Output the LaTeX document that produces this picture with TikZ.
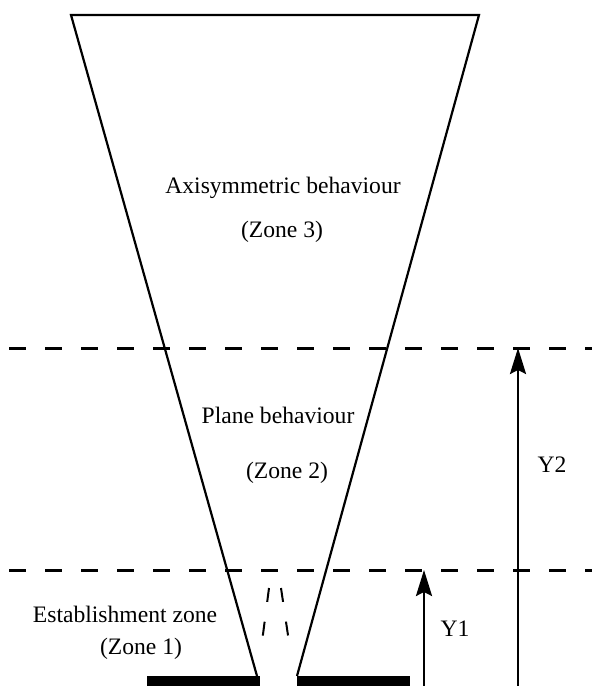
\documentclass[tikz,border=0pt]{standalone}
\usepackage{fontspec}
\setmainfont{Liberation Serif}
\usetikzlibrary{arrows.meta}
\tikzset{
  zonetext/.style={font=\fontsize{11.8}{14}\selectfont, inner sep=0pt},
  cone/.style={line width=1.1pt, line join=miter},
  level/.style={line width=1.5pt, dash pattern=on 8.5pt off 9.5pt},
  hgt/.style={-{Stealth[length=13pt,width=8pt,inset=2pt]}, line width=1.2pt},
  core/.style={line width=1pt, dash pattern=on 7pt off 10pt},
}
\begin{document}
\begin{tikzpicture}[x=0.5pt,y=-0.5pt]
  \useasboundingbox (0,0) rectangle (592,686);
  % jet cone
  \coordinate (tl) at (71,15);
  \coordinate (tr) at (479,15);
  \coordinate (bl) at (257,676);
  \coordinate (br) at (297,676);
  \draw[cone] (bl) -- (tl) -- (tr) -- (br);
  % nozzle plate
  \fill (147,676) rectangle (260,686);
  \fill (297,676) rectangle (410,686);
  % potential core
  \coordinate (cl1) at (269,588);
  \coordinate (cl2) at (262,642);
  \coordinate (cr1) at (281,588);
  \coordinate (cr2) at (289,642);
  \draw[core] (cl1) -- (cl2);
  \draw[core] (cr1) -- (cr2);
  % zone limits
  \coordinate (l1w) at (9,570);
  \coordinate (l1e) at (592,570);
  \coordinate (l2w) at (9,348);
  \coordinate (l2e) at (592,348);
  \draw[level] (l1w) -- (l1e);
  \draw[level] (l2w) -- (l2e);
  % heights
  \coordinate (y1b) at (424,686);
  \coordinate (y1t) at (424,570);
  \coordinate (y2b) at (518,686);
  \coordinate (y2t) at (518,348);
  \draw[hgt] (y1b) -- (y1t);
  \draw[hgt] (y2b) -- (y2t);
  \node[zonetext] (y1) at (455,629) {Y1};
  \node[zonetext] (y2) at (552,465) {Y2};
  % zone labels
  \node[zonetext] (z3a) at (283,188) {Axisymmetric behaviour};
  \node[zonetext] (z3b) at (282,232) {(Zone 3)};
  \node[zonetext] (z2a) at (278,415) {Plane behaviour};
  \node[zonetext] (z2b) at (287,473) {(Zone 2)};
  \node[zonetext] (z1a) at (125,614) {Establishment zone};
  \node[zonetext] (z1b) at (141,649) {(Zone 1)};
\end{tikzpicture}
\end{document}
